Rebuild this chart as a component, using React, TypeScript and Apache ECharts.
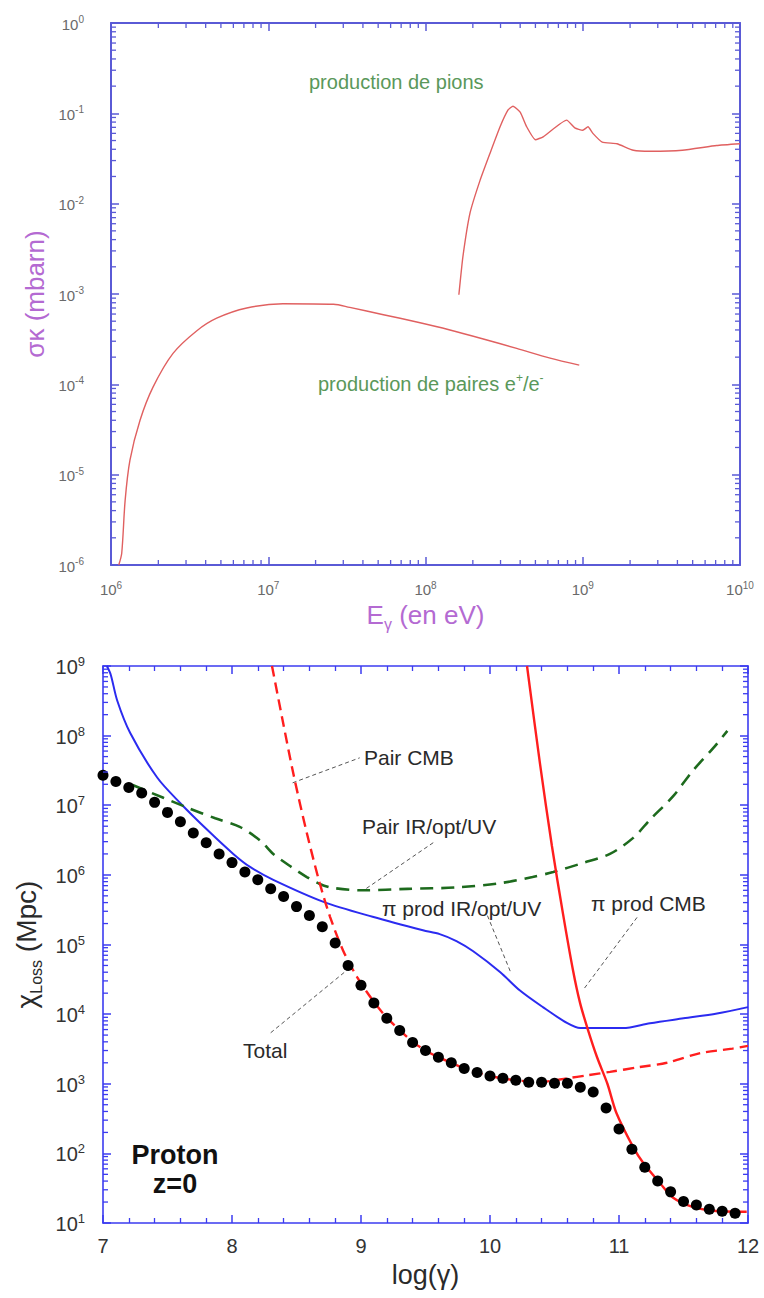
import React, { useEffect, useRef } from "react";
import * as echarts from "echarts";

const FONT = '"Liberation Sans", Arial, Helvetica, sans-serif';

// ---------------- Top chart: cross-section vs photon energy ----------------
const topXExponents = [6, 7, 8, 9, 10];
const topYExponents = [-6, -5, -4, -3, -2, -1, 0];

// pair production e+/e-
const pairEnergy = [1.12e6, 1.17e6, 1.23e6, 1.32e6, 1.53e6, 1.85e6, 2.48e6, 3.5e6, 4.7e6, 7.3e6, 1.24e7, 2.6e7, 3.3e7, 5.4e7, 8.8e7, 1.43e8, 2.3e8, 3.8e8, 6.2e8, 9.5e8];
const pairSigma = [1e-6, 1.35e-6, 5.2e-6, 1.45e-5, 4.0e-5, 9.3e-5, 2.2e-4, 3.9e-4, 5.4e-4, 7.0e-4, 7.8e-4, 7.7e-4, 7.1e-4, 5.9e-4, 4.9e-4, 4.0e-4, 3.2e-4, 2.5e-4, 1.95e-4, 1.63e-4];

// pion production
const pionEnergy = [1.63e8, 1.73e8, 1.92e8, 2.22e8, 2.57e8, 2.98e8, 3.35e8, 3.6e8, 4.0e8, 4.4e8, 5.0e8, 5.6e8, 7.9e8, 8.9e8, 1.0e9, 1.08e9, 1.16e9, 1.33e9, 1.65e9, 2.1e9, 2.7e9, 4.3e9, 7.1e9, 1e10];
const pionSigma = [9.8e-4, 2.6e-3, 7.9e-3, 1.8e-2, 3.6e-2, 7.1e-2, 0.109, 0.12, 0.103, 0.071, 0.051, 0.055, 0.084, 0.069, 0.065, 0.071, 0.060, 0.048, 0.046, 0.039, 0.038, 0.039, 0.044, 0.046];

// ---------------- Bottom chart: loss length vs log(gamma) ----------------
const botXTicks = [7, 8, 9, 10, 11, 12];
const botYExponents = [1, 2, 3, 4, 5, 6, 7, 8, 9];

// pi prod IR/opt/UV (blue solid)
const piIrX = [7.03, 7.06, 7.11, 7.21, 7.42, 7.6, 7.81, 8.01, 8.14, 8.32, 8.71, 9.09, 9.48, 9.61, 9.74, 9.87, 10.08, 10.23, 10.41, 10.6, 10.7, 11.03, 11.24, 11.5, 11.76, 12.0];
const piIrY = [1e9, 7.5e8, 3.2e8, 1.1e8, 2.5e7, 1.07e7, 4.4e6, 2.0e6, 1.3e6, 8.5e5, 4.1e5, 2.5e5, 1.6e5, 1.41e5, 1.12e5, 8.0e4, 4.0e4, 2.2e4, 1.26e4, 7.4e3, 6.3e3, 6.3e3, 7.4e3, 8.7e3, 1.02e4, 1.26e4];

// Pair IR/opt/UV (green dashed)
const pairIrX = [7.23, 7.65, 7.87, 8.06, 8.22, 8.32, 8.45, 8.58, 8.68, 8.78, 9.02, 9.36, 9.74, 10.08, 10.33, 10.49, 10.72, 10.93, 11.11, 11.24, 11.42, 11.57, 11.73, 11.84];
const pairIrY = [1.95e7, 9.3e6, 6.5e6, 4.9e6, 3.1e6, 2.0e6, 1.34e6, 9.3e5, 7.4e5, 6.5e5, 6.0e5, 6.3e5, 6.6e5, 7.6e5, 9.3e5, 1.1e6, 1.48e6, 2.0e6, 3.4e6, 6.2e6, 1.35e7, 3.1e7, 6.6e7, 1.17e8];

// Pair CMB (red dashed)
const pairCmbX = [8.31, 8.395, 8.48, 8.58, 8.68, 8.76, 8.86, 8.97, 9.1, 9.2, 9.3, 9.4, 9.5, 9.6, 9.7, 9.8, 9.9, 10.0, 10.2, 10.4, 10.6, 10.75, 10.93, 11.16, 11.37, 11.63, 11.88, 12.0];
const pairCmbY = [1e9, 1.57e8, 2.6e7, 4.0e6, 7.6e5, 2.5e5, 8.3e4, 3.4e4, 1.5e4, 8.9e3, 5.9e3, 4.0e3, 3.0e3, 2.4e3, 2.0e3, 1.66e3, 1.45e3, 1.29e3, 1.12e3, 1.07e3, 1.2e3, 1.32e3, 1.48e3, 1.74e3, 2.0e3, 2.75e3, 3.2e3, 3.5e3];

// pi prod CMB (red solid)
const piCmbX = [10.287, 10.388, 10.48, 10.566, 10.643, 10.698, 10.76, 10.83, 10.91, 10.98, 11.11, 11.19, 11.32, 11.42, 11.57, 11.73, 11.99];
const piCmbY = [1e9, 3.9e7, 2.6e6, 2.75e5, 4.3e4, 1.45e4, 5.9e3, 2.4e3, 1.0e3, 380, 123, 72, 37, 23, 17, 15, 14.5];

// Total (black dots)
const totalX = [7.0, 7.1, 7.2, 7.3, 7.4, 7.5, 7.6, 7.7, 7.8, 7.9, 8.0, 8.1, 8.2, 8.3, 8.4, 8.5, 8.6, 8.7, 8.8, 8.9, 9.0, 9.1, 9.2, 9.3, 9.4, 9.5, 9.6, 9.7, 9.8, 9.9, 10.0, 10.1, 10.2, 10.3, 10.4, 10.5, 10.6, 10.7, 10.8, 10.9, 11.0, 11.1, 11.2, 11.3, 11.4, 11.5, 11.6, 11.7, 11.8, 11.9];
const totalY = [2.7e7, 2.2e7, 1.8e7, 1.5e7, 1.1e7, 7.9e6, 5.8e6, 4.0e6, 2.9e6, 2.0e6, 1.5e6, 1.1e6, 8.5e5, 6.3e5, 4.9e5, 3.5e5, 2.6e5, 1.8e5, 1.05e5, 5.0e4, 2.6e4, 1.45e4, 8.7e3, 5.8e3, 3.9e3, 3.0e3, 2.4e3, 2.0e3, 1.66e3, 1.45e3, 1.29e3, 1.2e3, 1.12e3, 1.05e3, 1.05e3, 1.02e3, 1.02e3, 890, 760, 450, 224, 115, 63, 40, 28, 20.4, 18.2, 15.8, 14.8, 13.8];

// annotation leader lines (data coordinates)
const leaderPairCmb = [[8.47, 2.1e7], [8.99, 4.8e7]];
const leaderPairIr = [[9.56, 2.9e6], [9.02, 6.0e5]];
const leaderPiIr = [[9.98, 2.6e5], [10.16, 4.0e4]];
const leaderPiCmb = [[11.14, 2.45e5], [10.72, 2.2e4]];
const leaderTotal = [[8.3, 5.4e3], [8.93, 4.9e4]];

const TOP_AX = "#5a5ad6";
const BOT_AX = "#3b3bf0";
const PURPLE = "#b46ad2";
const GREEN_TXT = "#5a985a";
const TOP_RED = "#e06060";

const zip = (xs: number[], ys: number[]) => xs.map((x, i) => [x, ys[i]]);

const expFormatter = (exps: number[], big: string, small: string) => (v: number) => {
  const e = Math.round(Math.log10(v));
  return exps.includes(e) ? `{${big}|10}{${small}|${e}}` : "";
};

// log-axis minor tick positions (2..9 x 10^n)
function logMinorValues(exps: number[]) {
  const out: number[] = [];
  for (const n of exps) for (let k = 2; k <= 9; k++) out.push(k * Math.pow(10, n));
  return out;
}

function tickMarks(xi: number, yi: number, data: number[][], vertical: boolean, inward: number, color: string) {
  return {
    type: "scatter",
    xAxisIndex: xi,
    yAxisIndex: yi,
    data,
    symbol: "rect",
    symbolSize: vertical ? [1.3, 5] : [5, 1.3],
    symbolOffset: vertical ? [0, inward * 2.5] : [inward * 2.5, 0],
    itemStyle: { color, opacity: 1 },
    silent: true,
    clip: false,
    z: 20,
  };
}

const topRich = {
  b: { fontSize: 15, lineHeight: 17, color: "#6a6a6a", fontFamily: FONT, verticalAlign: "bottom" },
  s: { fontSize: 10, lineHeight: 10, color: "#6a6a6a", fontFamily: FONT, verticalAlign: "top" },
};
const botRich = {
  b: { fontSize: 20, lineHeight: 22, color: "#333", fontFamily: FONT, verticalAlign: "bottom" },
  s: { fontSize: 13, lineHeight: 13, color: "#333", fontFamily: FONT, verticalAlign: "top" },
};

function buildOption() {
  const topLine = { show: true, lineStyle: { color: TOP_AX, width: 2 } };
  const topTick = { show: true, inside: true, length: 8, lineStyle: { color: TOP_AX, width: 1.5 } };
  const botLine = { show: true, lineStyle: { color: BOT_AX, width: 1.6 } };
  const botTick = { show: true, inside: true, length: 8, lineStyle: { color: BOT_AX, width: 1.5 } };
  const botMinor = { show: true, splitNumber: 5, length: 5, lineStyle: { color: BOT_AX, width: 1.3 } };

  const topXMinor = logMinorValues([6, 7, 8, 9]);
  const topYMinor = logMinorValues([-6, -5, -4, -3, -2, -1]);
  const botYMinor = logMinorValues([1, 2, 3, 4, 5, 6, 7, 8]);

  const leader = (data: number[][]) => ({
    type: "line",
    xAxisIndex: 2,
    yAxisIndex: 2,
    data,
    symbol: "none",
    silent: true,
    z: 3,
    lineStyle: { color: "#555", width: 1, type: [4, 3] },
  });

  const txt = (text: string, x: number, y: number, size = 21, extra: any = {}) => ({
    type: "text",
    x,
    y,
    silent: true,
    z: 50,
    style: {
      text,
      fill: "#2a2a2a",
      fontSize: size,
      fontFamily: FONT,
      align: "left",
      textAlign: "left",
      verticalAlign: "middle",
      textVerticalAlign: "middle",
      ...extra,
    },
  });

  return {
    animation: false,
    backgroundColor: "#ffffff",
    textStyle: { fontFamily: FONT },
    grid: [
      { left: 111, top: 23, width: 629, height: 542, containLabel: false },
      { left: 103, top: 666, width: 645, height: 557, containLabel: false },
    ],
    xAxis: [
      {
        gridIndex: 0, type: "log", logBase: 10, min: 1e6, max: 1e10, splitNumber: 4, position: "bottom",
        axisLine: topLine, axisTick: topTick, splitLine: { show: false },
        axisLabel: { margin: 15, showMinLabel: true, showMaxLabel: true, formatter: expFormatter(topXExponents, "b", "s"), rich: topRich },
        name: "{e|E}{g|γ}{e| (en eV)}", nameLocation: "middle", nameGap: 37,
        nameTextStyle: {
          rich: {
            e: { fontSize: 26, lineHeight: 30, color: PURPLE, fontFamily: FONT, verticalAlign: "top" },
            g: { fontSize: 16, lineHeight: 16, color: PURPLE, fontFamily: FONT, verticalAlign: "bottom" },
          },
        },
      },
      {
        gridIndex: 0, type: "log", logBase: 10, min: 1e6, max: 1e10, splitNumber: 4, position: "top",
        axisLine: topLine, axisTick: topTick, axisLabel: { show: false }, splitLine: { show: false },
      },
      {
        gridIndex: 1, type: "value", min: 7, max: 12, interval: 1, position: "bottom",
        axisLine: botLine, axisTick: botTick, minorTick: botMinor, splitLine: { show: false },
        axisLabel: {
          margin: 13, color: "#333", fontSize: 20, fontFamily: FONT,
          formatter: (v: number) => (botXTicks.includes(Math.round(v)) ? String(Math.round(v)) : ""),
        },
        name: "log(γ)", nameLocation: "middle", nameGap: 38,
        nameTextStyle: { color: "#2a2a2a", fontSize: 27, fontFamily: FONT },
      },
      {
        gridIndex: 1, type: "value", min: 7, max: 12, interval: 1, position: "top",
        axisLine: botLine, axisTick: botTick, minorTick: botMinor, axisLabel: { show: false }, splitLine: { show: false },
      },
    ],
    yAxis: [
      {
        gridIndex: 0, type: "log", logBase: 10, min: 1e-6, max: 1, splitNumber: 6, position: "left",
        axisLine: topLine, axisTick: topTick, splitLine: { show: false },
        axisLabel: { margin: 27, showMinLabel: true, showMaxLabel: true, formatter: expFormatter(topYExponents, "b", "s"), rich: topRich },
        name: "σκ (mbarn)", nameLocation: "middle", nameRotate: 90, nameGap: 60,
        nameTextStyle: { color: PURPLE, fontSize: 26, fontFamily: FONT },
      },
      {
        gridIndex: 0, type: "log", logBase: 10, min: 1e-6, max: 1, splitNumber: 6, position: "right",
        axisLine: topLine, axisTick: topTick, axisLabel: { show: false }, splitLine: { show: false },
      },
      {
        gridIndex: 1, type: "log", logBase: 10, min: 10, max: 1e9, splitNumber: 8, position: "left",
        axisLine: botLine, axisTick: botTick, splitLine: { show: false },
        axisLabel: { margin: 18, showMinLabel: true, showMaxLabel: true, formatter: expFormatter(botYExponents, "b", "s"), rich: botRich },
        name: "{c|χ}{s|Loss}{c| (Mpc)}", nameLocation: "middle", nameRotate: 90, nameGap: 58,
        nameTextStyle: {
          rich: {
            c: { fontSize: 28, lineHeight: 32, color: "#2a2a2a", fontFamily: FONT, verticalAlign: "top" },
            s: { fontSize: 16, lineHeight: 16, color: "#2a2a2a", fontFamily: FONT, verticalAlign: "bottom" },
          },
        },
      },
      {
        gridIndex: 1, type: "log", logBase: 10, min: 10, max: 1e9, splitNumber: 8, position: "right",
        axisLine: botLine, axisTick: botTick, axisLabel: { show: false }, splitLine: { show: false },
      },
    ],
    series: [
      // log minor ticks, top chart
      tickMarks(0, 0, topXMinor.map((v) => [v, 1e-6]), true, -1, TOP_AX),
      tickMarks(0, 0, topXMinor.map((v) => [v, 1]), true, 1, TOP_AX),
      tickMarks(0, 0, topYMinor.map((v) => [1e6, v]), false, 1, TOP_AX),
      tickMarks(0, 0, topYMinor.map((v) => [1e10, v]), false, -1, TOP_AX),
      // log minor ticks, bottom chart
      tickMarks(2, 2, botYMinor.map((v) => [7, v]), false, 1, BOT_AX),
      tickMarks(2, 2, botYMinor.map((v) => [12, v]), false, -1, BOT_AX),
      {
        name: "production de paires", type: "line", xAxisIndex: 0, yAxisIndex: 0,
        data: zip(pairEnergy, pairSigma), symbol: "none", smooth: 0.3,
        lineStyle: { color: TOP_RED, width: 1.4 },
      },
      {
        name: "production de pions", type: "line", xAxisIndex: 0, yAxisIndex: 0,
        data: zip(pionEnergy, pionSigma), symbol: "none", smooth: 0.15,
        lineStyle: { color: TOP_RED, width: 1.4 },
      },
      {
        name: "π prod IR/opt/UV", type: "line", xAxisIndex: 2, yAxisIndex: 2,
        data: zip(piIrX, piIrY), symbol: "none", smooth: 0.3, z: 4,
        lineStyle: { color: "#2b2bf0", width: 2 },
      },
      {
        name: "Pair IR/opt/UV", type: "line", xAxisIndex: 2, yAxisIndex: 2,
        data: zip(pairIrX, pairIrY), symbol: "none", smooth: 0.3, z: 4,
        lineStyle: { color: "#1d6a1d", width: 2.6, type: [13, 8] },
      },
      {
        name: "Pair CMB", type: "line", xAxisIndex: 2, yAxisIndex: 2,
        data: zip(pairCmbX, pairCmbY), symbol: "none", smooth: 0.3, z: 4,
        lineStyle: { color: "#ff1e1e", width: 2.4, type: [11, 6] },
      },
      {
        name: "π prod CMB", type: "line", xAxisIndex: 2, yAxisIndex: 2,
        data: zip(piCmbX, piCmbY), symbol: "none", smooth: 0.3, z: 4,
        lineStyle: { color: "#ff1e1e", width: 2.4 },
      },
      {
        name: "Total", type: "scatter", xAxisIndex: 2, yAxisIndex: 2,
        data: zip(totalX, totalY), symbol: "circle", symbolSize: 11, z: 6,
        itemStyle: { color: "#000", opacity: 1 },
      },
      leader(leaderPairCmb),
      leader(leaderPairIr),
      leader(leaderPiIr),
      leader(leaderPiCmb),
      leader(leaderTotal),
    ],
    graphic: [
      txt("production de pions", 309, 82, 20, { fill: GREEN_TXT }),
      {
        type: "text", x: 318, y: 383, silent: true, z: 50,
        style: {
          text: "{t|production de paires e}{s|+}{t|/e}{s|-}",
          align: "left", textAlign: "left", verticalAlign: "middle", textVerticalAlign: "middle",
          rich: {
            t: { fontSize: 20, lineHeight: 22, fill: GREEN_TXT, fontFamily: FONT, verticalAlign: "bottom" },
            s: { fontSize: 12, lineHeight: 12, fill: GREEN_TXT, fontFamily: FONT, verticalAlign: "top" },
          },
        },
      },
      txt("Pair CMB", 364, 757),
      txt("Pair IR/opt/UV", 362, 826),
      txt("π prod IR/opt/UV", 382, 908),
      txt("π prod CMB", 591, 903),
      txt("Total", 243, 1050),
      txt("Proton", 175, 1155, 27, { fontWeight: "bold", fill: "#111", align: "center", textAlign: "center" }),
      txt("z=0", 175, 1184, 27, { fontWeight: "bold", fill: "#111", align: "center", textAlign: "center" }),
    ],
  };
}

export default function App() {
  const ref = useRef<HTMLDivElement>(null);
  useEffect(() => {
    if (!ref.current) return;
    const chart = echarts.init(ref.current, undefined, { renderer: "svg" });
    chart.setOption(buildOption() as any);
    return () => chart.dispose();
  }, []);
  return (
    <div
      ref={ref}
      style={{ position: "absolute", left: 0, top: 0, width: 764, height: 1298, background: "#fff" }}
    />
  );
}
